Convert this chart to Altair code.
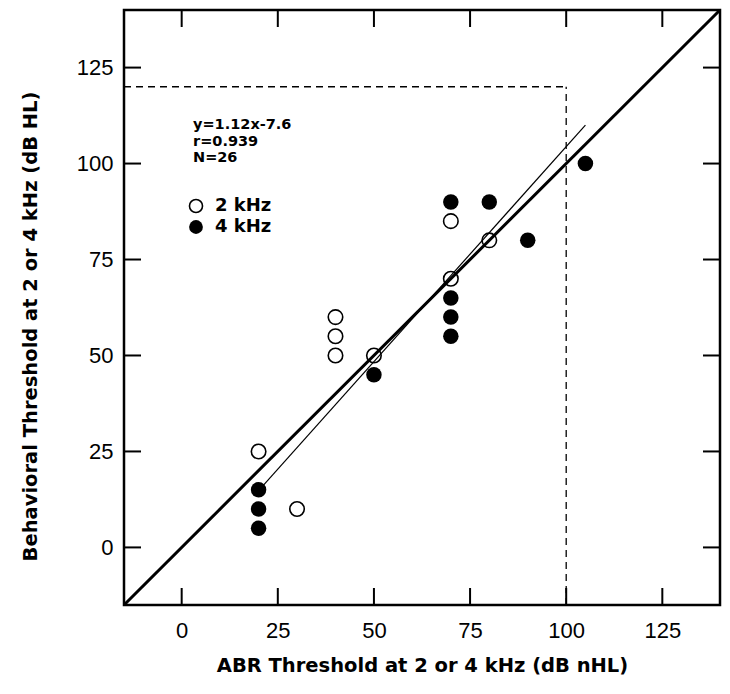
import altair as alt
import pandas as pd

# data
open_x = [20, 30, 40, 40, 40, 50, 70, 70, 80]
open_y = [25, 10, 60, 55, 50, 50, 85, 70, 80]
fill_x = [20, 20, 20, 50, 70, 80, 70, 70, 70, 90, 105]
fill_y = [15, 10, 5, 45, 90, 90, 65, 60, 55, 80, 100]
reg_x = [20, 105]
reg_y = [14.8, 110.0]
ident = [-15, 140]
dash_h_x = [-15, 100]
dash_h_y = [120, 120]
dash_v_x = [100, 100]
dash_v_y = [-15, 120]
tick_values = [0, 25, 50, 75, 100, 125]
stats_lines = ["y=1.12x-7.6", "r=0.939", "N=26"]
legend_labels = ["2 kHz", "4 kHz"]

W, H = 596, 595
DOM = [-15, 140]
TL = 17
LABEL_FONT = "Liberation Sans"
TITLE_FONT = "DejaVu Sans"

xs = alt.Scale(domain=DOM, nice=False, zero=False)
ys = alt.Scale(domain=DOM, nice=False, zero=False)

x_axis = alt.Axis(values=tick_values, ticks=False, domain=False, grid=False,
                  labelFont=LABEL_FONT, labelFontSize=22, labelFontWeight="normal",
                  labelColor="black", labelPadding=15,
                  title="ABR Threshold at 2 or 4 kHz (dB nHL)",
                  titleFont=TITLE_FONT, titleFontSize=19.5, titleFontWeight="bold",
                  titleColor="black", titleX=W / 2, titleY=60, titleBaseline="middle")
y_axis = alt.Axis(values=tick_values, ticks=False, domain=False, grid=False,
                  labelFont=LABEL_FONT, labelFontSize=22, labelFontWeight="normal",
                  labelColor="black", labelPadding=11,
                  title="Behavioral Threshold at 2 or 4 kHz (dB HL)",
                  titleFont=TITLE_FONT, titleFontSize=19.5, titleFontWeight="bold",
                  titleColor="black", titleX=-94, titleY=316, titleBaseline="middle",
                  titleAngle=-90)

open_df = pd.DataFrame({"x": open_x, "y": open_y})
fill_df = pd.DataFrame({"x": fill_x, "y": fill_y})
reg_df = pd.DataFrame({"x": reg_x, "y": reg_y})
id_df = pd.DataFrame({"x": ident, "y": ident})
dh_df = pd.DataFrame({"x": dash_h_x, "y": dash_h_y})
dv_df = pd.DataFrame({"x": dash_v_x, "y": dash_v_y})
tk_df = pd.DataFrame({"v": tick_values})
one = pd.DataFrame({"a": [0]})

base_axes = alt.Chart(id_df).mark_line(color="black", strokeWidth=3).encode(
    x=alt.X("x:Q", scale=xs, axis=x_axis),
    y=alt.Y("y:Q", scale=ys, axis=y_axis),
)

reg = alt.Chart(reg_df).mark_line(color="black", strokeWidth=1.2).encode(
    x=alt.X("x:Q", scale=xs), y=alt.Y("y:Q", scale=ys))
dh = alt.Chart(dh_df).mark_line(color="black", strokeWidth=1.3, strokeDash=[7, 5]).encode(
    x=alt.X("x:Q", scale=xs), y=alt.Y("y:Q", scale=ys))
dv = alt.Chart(dv_df).mark_line(color="black", strokeWidth=1.3, strokeDash=[7, 5]).encode(
    x=alt.X("x:Q", scale=xs), y=alt.Y("y:Q", scale=ys))

opens = alt.Chart(open_df).mark_point(shape="circle", size=210, filled=False,
                                       color="black", strokeWidth=1.6, opacity=1).encode(
    x=alt.X("x:Q", scale=xs), y=alt.Y("y:Q", scale=ys))
fills = alt.Chart(fill_df).mark_point(shape="circle", size=240, filled=True,
                                       color="black", opacity=1).encode(
    x=alt.X("x:Q", scale=xs), y=alt.Y("y:Q", scale=ys))

# inward ticks on four sides
tb = alt.Chart(tk_df).mark_rule(color="black", strokeWidth=2).encode(
    x=alt.X("v:Q", scale=xs), y=alt.value(H), y2=alt.value(H - TL))
tt = alt.Chart(tk_df).mark_rule(color="black", strokeWidth=2).encode(
    x=alt.X("v:Q", scale=xs), y=alt.value(0), y2=alt.value(TL))
tl = alt.Chart(tk_df).mark_rule(color="black", strokeWidth=2).encode(
    y=alt.Y("v:Q", scale=ys), x=alt.value(0), x2=alt.value(TL))
tr = alt.Chart(tk_df).mark_rule(color="black", strokeWidth=2).encode(
    y=alt.Y("v:Q", scale=ys), x=alt.value(W), x2=alt.value(W - TL))

stats = alt.Chart(one).mark_text(align="left", baseline="middle", font=TITLE_FONT,
                                 fontSize=14.5, fontWeight="bold", color="black",
                                 lineHeight=16.5, text=stats_lines).encode(
    x=alt.value(69), y=alt.value(115))

leg_t1 = alt.Chart(one).mark_text(align="left", baseline="middle", font=TITLE_FONT,
                                  fontSize=18, fontWeight="bold", color="black",
                                  text=legend_labels[0]).encode(x=alt.value(91), y=alt.value(196))
leg_t2 = alt.Chart(one).mark_text(align="left", baseline="middle", font=TITLE_FONT,
                                  fontSize=18, fontWeight="bold", color="black",
                                  text=legend_labels[1]).encode(x=alt.value(91), y=alt.value(217))
leg_open = alt.Chart(one).mark_point(shape="circle", size=170, filled=False,
                                     color="black", strokeWidth=1.6, opacity=1).encode(
    x=alt.value(72), y=alt.value(196))
leg_fill = alt.Chart(one).mark_point(shape="circle", size=190, filled=True,
                                     color="black", opacity=1).encode(
    x=alt.value(72), y=alt.value(217))

chart = alt.layer(base_axes, reg, dh, dv, opens, fills, tb, tt, tl, tr,
                  stats, leg_t1, leg_t2, leg_open, leg_fill).properties(
    width=W, height=H,
    autosize=alt.AutoSizeParams(type="none"),
    padding={"left": 116, "top": 2, "right": 2, "bottom": 80},
).configure_view(stroke="black", strokeWidth=2.5)

chart.save("out.html", embed_options={"renderer": "svg", "actions": False})
